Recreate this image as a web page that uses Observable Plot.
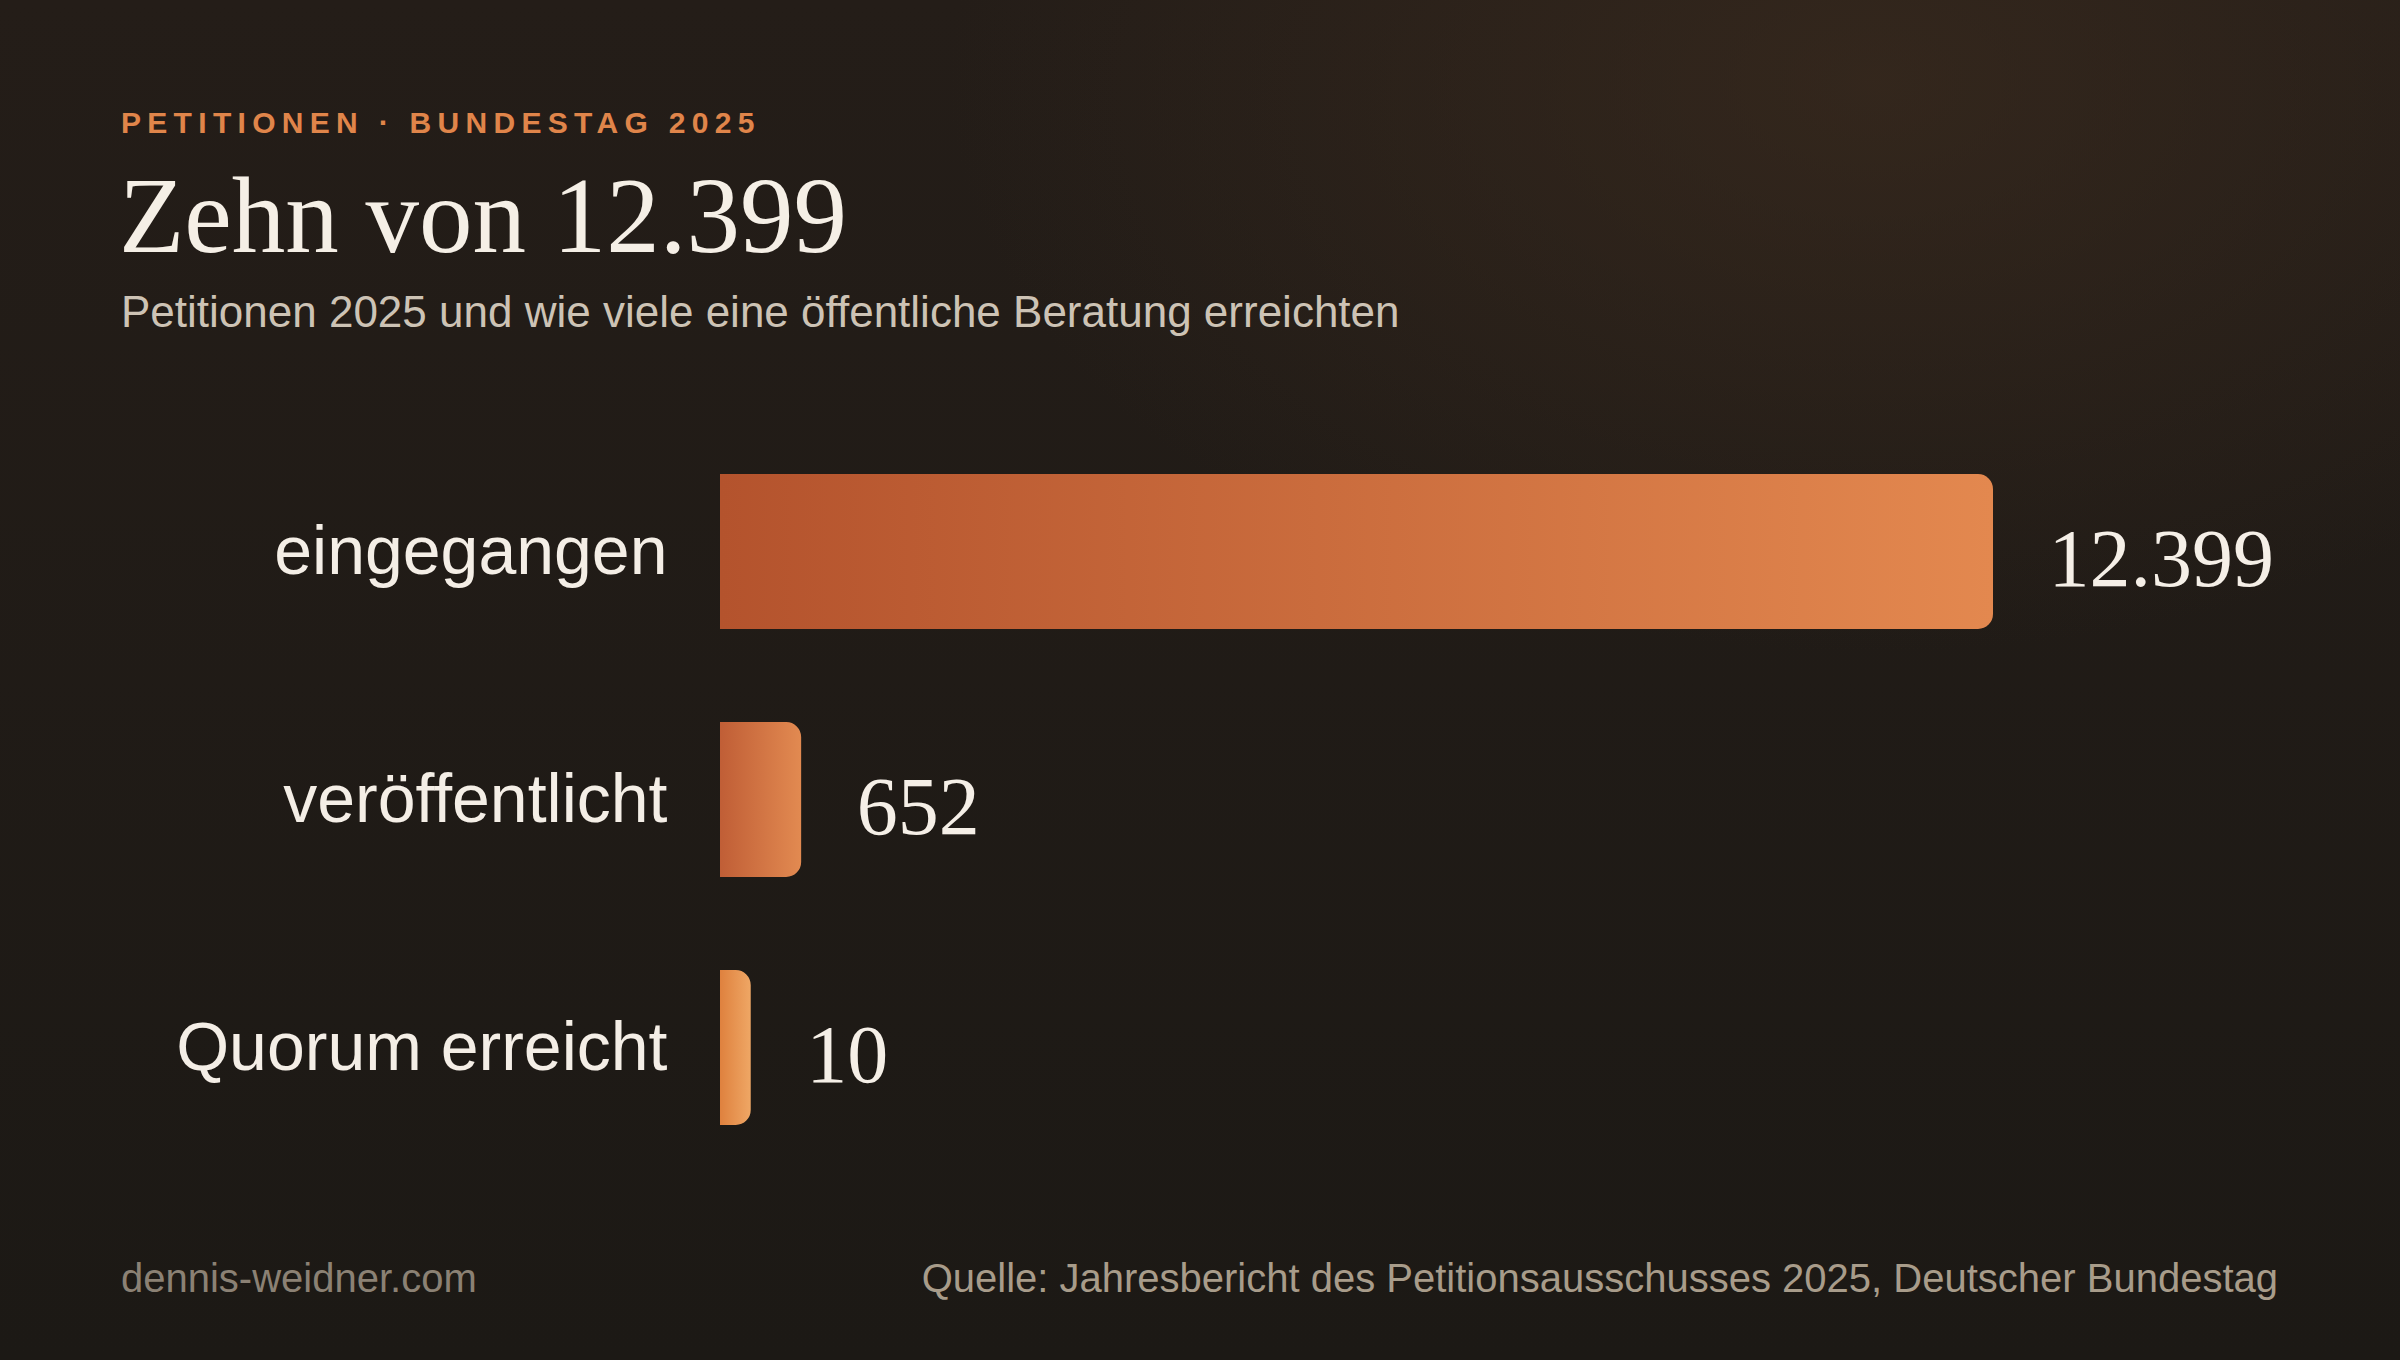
<!DOCTYPE html>
<html lang="de">
<head>
<meta charset="utf-8">
<script src="https://cdn.jsdelivr.net/npm/d3@7"></script>
<script src="https://cdn.jsdelivr.net/npm/@observablehq/plot@0.6"></script>
<style>
  html, body { margin: 0; padding: 0; }
  body {
    width: 2400px; height: 1360px; overflow: hidden; position: relative;
    background:
      radial-gradient(ellipse 55% 60% at 78% 6%, rgba(60,44,31,0.65) 0%, rgba(60,44,31,0) 70%),
      linear-gradient(180deg, #241d18 0%, #1c1915 100%);
    font-family: "Liberation Sans", Arial, Helvetica, sans-serif;
  }
  .abs { position: absolute; line-height: 1; white-space: nowrap; }
  #kicker { left: 121px; top: 108px; font-size: 30px; font-weight: 700; letter-spacing: 0.21em; color: #e0854a; }
  #title { left: 119px; top: 163px; font-size: 107px; font-family: "Liberation Serif", Georgia, serif; color: #f5efe6; }
  #subtitle { left: 121px; top: 290px; font-size: 44px; color: #cdc3b5; }
  #chart { left: 0; top: 361px; }
  #site { left: 121px; top: 1258px; font-size: 40px; color: #8b8174; }
  #source { right: 122px; top: 1258px; font-size: 40px; color: #a89c8a; }
</style>
</head>
<body>
<div class="abs" id="kicker">PETITIONEN · BUNDESTAG 2025</div>
<div class="abs" id="title">Zehn von 12.399</div>
<div class="abs" id="subtitle">Petitionen 2025 und wie viele eine öffentliche Beratung erreichten</div>
<div class="abs" id="chart"></div>
<div class="abs" id="site">dennis-weidner.com</div>
<div class="abs" id="source">Quelle: Jahresbericht des Petitionsausschusses 2025, Deutscher Bundestag</div>
<script>
// ---- data ----
const categories = ["eingegangen", "veröffentlicht", "Quorum erreicht"];
const values = [12399, 652, 10];

// ---- styling ----
const gradientStops = [
  ["#b4532d", "#e3884f"],
  ["#c05e36", "#e28a51"],
  ["#df813e", "#efa765"]
];
const minBarValue = 155; // smallest drawn bar length (data units) so tiny values stay visible

const deLocale = d3.formatLocale({decimal: ",", thousands: ".", grouping: [3], currency: ["", " €"]});
const fmt = deLocale.format(",d");

const data = categories.map((c, i) => ({category: c, value: values[i], idx: i}));
const barEnd = d => Math.max(d.value, minBarValue);

const chart = Plot.plot({
  width: 2400,
  height: 877,
  marginLeft: 720,
  marginRight: 422,
  marginTop: 20,
  marginBottom: 20,
  style: {background: "transparent", color: "#f4eee6", overflow: "visible"},
  x: {domain: [0, 12399], axis: null},
  y: {domain: categories, padding: 0.375, label: null, axis: null},
  color: {type: "identity"},
  marks: [
    Plot.barX(data, {
      y: "category",
      x1: 0,
      x2: barEnd,
      fill: d => `url(#bar-grad-${d.idx})`,
      insetRight: -15,
      rx2: 15
    }),
    Plot.text(data, {
      y: "category",
      x: barEnd,
      text: d => fmt(d.value),
      dx: 70,
      dy: 8,
      textAnchor: "start",
      lineAnchor: "middle",
      fontFamily: "Liberation Serif, Georgia, serif",
      fontSize: 82,
      fill: "#f5efe7"
    }),
    Plot.axisY({
      tickSize: 0,
      tickPadding: 53,
      fontSize: 68,
      fontFamily: "Liberation Sans, Arial, Helvetica, sans-serif",
      label: null
    })
  ]
});

const defs = d3.select(chart).insert("defs", ":first-child");
gradientStops.forEach((stops, i) => {
  const g = defs.append("linearGradient")
    .attr("id", `bar-grad-${i}`)
    .attr("x1", "0").attr("y1", "0").attr("x2", "1").attr("y2", "0");
  g.append("stop").attr("offset", "0%").attr("stop-color", stops[0]);
  g.append("stop").attr("offset", "100%").attr("stop-color", stops[1]);
});

document.getElementById("chart").appendChild(chart);
</script>
</body>
</html>
